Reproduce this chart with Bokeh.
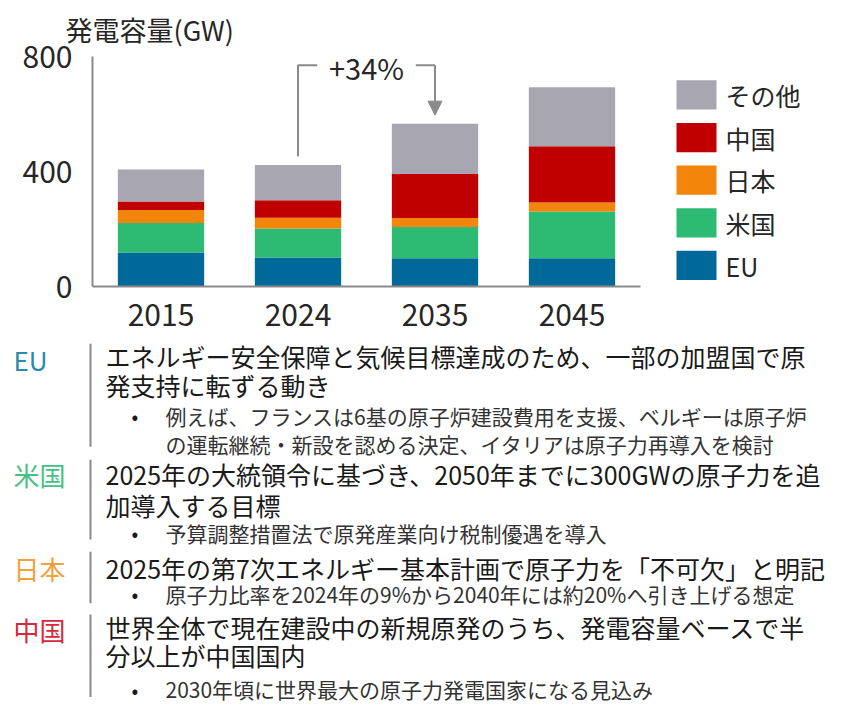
from bokeh.plotting import figure
from bokeh.models import (Range1d, FactorRange, Label, Arrow, NormalHead, FixedTicker,
                          ColumnDataSource)
from bokeh.layouts import column, row
from bokeh.embed import file_html
from bokeh.resources import INLINE
from bokeh.core.properties import value

# ---------------- data ----------------
years = ["2015", "2024", "2035", "2045"]
eu = [118, 101, 98, 98]
us = [103, 101, 109, 163]
japan = [45, 37, 31, 31]
china = [30, 61, 153, 196]
other = [111, 123, 175, 205]
keys = ["eu", "us", "jp", "cn", "ot"]
names = ["EU", "米国", "日本", "中国", "その他"]
colors = ["#00699a", "#2dba72", "#f2850a", "#c00000", "#a8a6b0"]
y_ticks = [0, 400, 800]

sec_names = ["EU", "米国", "日本", "中国"]
sec_colors = ["#2a8aab", "#47bf86", "#f4a03c", "#d9283b"]
sec_lines = [
    [("m", "エネルギー安全保障と気候目標達成のため、一部の加盟国で原"),
     ("m", "発支持に転ずる動き"),
     ("b", "例えば、フランスは6基の原子炉建設費用を支援、ベルギーは原子炉"),
     ("c", "の運転継続・新設を認める決定、イタリアは原子力再導入を検討")],
    [("m", "2025年の大統領令に基づき、2050年までに300GWの原子力を追"),
     ("m", "加導入する目標"),
     ("b", "予算調整措置法で原発産業向け税制優遇を導入")],
    [("m", "2025年の第7次エネルギー基本計画で原子力を「不可欠」と明記"),
     ("b", "原子力比率を2024年の9%から2040年には約20%へ引き上げる想定")],
    [("m", "世界全体で現在建設中の新規原発のうち、発電容量ベースで半"),
     ("m", "分以上が中国国内"),
     ("b", "2030年頃に世界最大の原子力発電国家になる見込み")],
]

FONT = "Noto Sans CJK JP"
GRAY = "#8a8a8a"
TXT = "#262626"

# ---------------- chart ----------------
src = ColumnDataSource(dict(year=years, eu=eu, us=us, jp=japan, cn=china, ot=other))

CH = 334
p = figure(width=660, height=CH, x_range=FactorRange(*years), y_range=Range1d(0, 800),
           output_backend="svg", toolbar_location=None,
           min_border_left=92, min_border_right=20, min_border_top=54, min_border_bottom=48)
p.outline_line_color = None
p.grid.visible = False
p.background_fill_color = None

p.title.text = "発電容量(GW)"
p.title.align = "left"
p.title.offset = -27
p.title.standoff = 15
p.title.text_font = FONT
p.title.text_font_size = "27px"
p.title.text_font_style = "normal"
p.title.text_color = TXT

rs = p.vbar_stack(keys, x="year", width=0.63, color=colors, line_color=None, source=src)

for ax in (p.xaxis[0], p.yaxis[0]):
    ax.axis_line_color = GRAY
    ax.axis_line_width = 2
    ax.major_tick_line_color = None
    ax.minor_tick_line_color = None
    ax.major_label_text_font = FONT
    ax.major_label_text_font_size = "30px"
    ax.major_label_text_color = TXT
p.xaxis.major_label_standoff = 11
p.yaxis.major_label_standoff = 14
p.yaxis.ticker = FixedTicker(ticks=y_ticks)

tot = [a + b + c + d + e for a, b, c, d, e in zip(eu, us, japan, china, other)]
t24, t35 = tot[1], tot[2]
pct = round((t35 / t24 - 1) * 100)
top = 770
p.line(x=[1.5, 1.5, 1.64], y=[t24 + 30, top, top], line_color=GRAY, line_width=2)
p.line(x=[2.36, 2.5], y=[top, top], line_color=GRAY, line_width=2)
p.add_layout(Arrow(end=NormalHead(size=14, fill_color=GRAY, line_color=GRAY),
                   x_start=2.5, y_start=top, x_end=2.5, y_end=t35 + 30,
                   line_color=GRAY, line_width=2))
p.add_layout(Label(x=2.0, y=top, y_offset=-2, text=f"+{pct}%", text_font=FONT,
                   text_font_size="29px", text_color=TXT,
                   text_align="center", text_baseline="middle"))

# ---------------- legend (separate panel, picture coordinates) ----------------
lg = figure(width=165, height=CH, x_range=Range1d(660, 825), y_range=Range1d(286, 54),
            output_backend="svg", toolbar_location=None,
            min_border_left=0, min_border_right=0, min_border_top=54, min_border_bottom=48,
            x_axis_type=None, y_axis_type=None)
lg.outline_line_color = None
lg.grid.visible = False
order = list(range(len(keys)))[::-1]
sw_top = [78 + 43 * k for k in range(len(order))]
lg.quad(left=[676] * len(order), right=[716] * len(order), top=sw_top,
        bottom=[s + 29.5 for s in sw_top], fill_color=[colors[i] for i in order],
        line_color=None)
lg.text(x=[725] * len(order), y=[s + 15 for s in sw_top], text=[names[i] for i in order],
        text_font=value(FONT), text_font_size="25px", text_color=TXT,
        text_baseline="middle", text_align="left")

# ---------------- text block ----------------
H = 705 - CH
t = figure(width=825, height=H, x_range=Range1d(0, 825), y_range=Range1d(CH + H, CH),
           output_backend="svg", toolbar_location=None, min_border=0,
           x_axis_type=None, y_axis_type=None)
t.outline_line_color = None
t.grid.visible = False


def sq(y):  # squeeze reference positions slightly so everything fits the page
    return 345 + (y - 345) * 0.937


label_y = [360, 483, 583, 648]
bar_y = [(343, 453), (467, 552), (565, 620), (632, 720)]
line_y = [[356, 387, 420, 450], [482, 515, 545], [582, 610], [645, 675, 712]]

for i, nm in enumerate(sec_names):
    t.text(x=[13], y=[sq(label_y[i])], text=[nm], text_font=value(FONT),
           text_font_size="26px", text_color=sec_colors[i],
           text_baseline="middle", text_align="left")
    y0, y1 = bar_y[i]
    t.segment(x0=[90], y0=[sq(y0)], x1=[90], y1=[sq(y1)], line_color=GRAY, line_width=2)
    for (kind, s), yy in zip(sec_lines[i], line_y[i]):
        if kind == "m":
            t.text(x=[105], y=[sq(yy)], text=[s], text_font=value(FONT),
                   text_font_size="25px", text_color="#1a1a1a",
                   text_baseline="middle", text_align="left")
        else:
            if kind == "b":
                t.text(x=[131], y=[sq(yy)], text=["•"], text_font=value(FONT),
                       text_font_size="20px", text_color="#1a1a1a",
                       text_baseline="middle", text_align="left")
            t.text(x=[165], y=[sq(yy)], text=[s], text_font=value(FONT),
                   text_font_size="21px", text_color="#333333",
                   text_baseline="middle", text_align="left")

layout = column(row(p, lg, spacing=0), row(t), spacing=0)
open("out.html", "w").write(file_html(layout, INLINE))
